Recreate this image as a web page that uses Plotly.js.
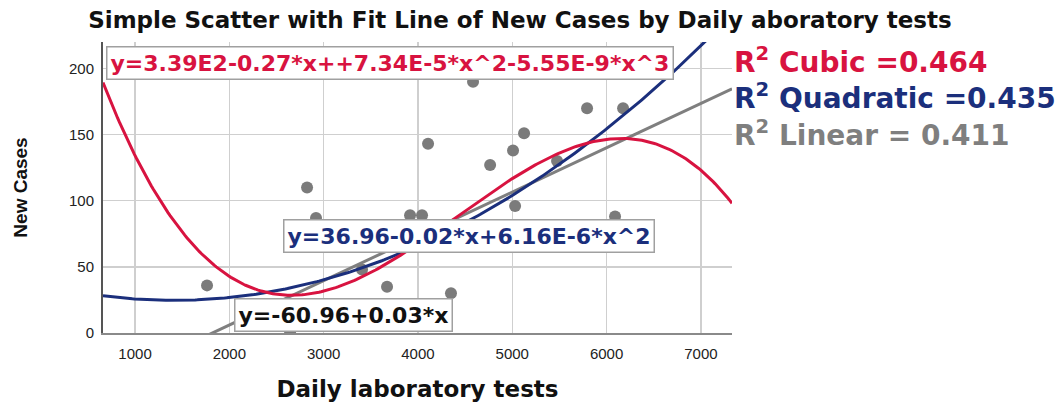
<!DOCTYPE html>
<html>
<head>
<meta charset="utf-8">
<script src="https://cdn.plot.ly/plotly-3.0.1.min.js"></script>
<style>html,body{margin:0;padding:0;background:#fff;}#chart{width:1059px;height:403px;}</style>
</head>
<body>
<div id="chart"></div>
<script>
// Observed points (Daily laboratory tests, New Cases)
const labTests = [4584, 5793, 6175, 5125, 4107, 5008, 4765, 5475, 2824, 2919, 3916, 4043, 5030, 6090, 3407, 3672, 1763, 4350, 2644];
const newCases = [190, 170, 170, 151, 143, 138, 127, 130, 110, 87, 89, 89, 96, 88, 48, 35, 36, 30, 1];

// Fit coefficients (constant, x, x^2, x^3), as shown in the chart (unrounded estimates)
const cubicCoef = [339, -0.2727, 7.34e-5, -5.55e-9];
const quadCoef = [36.96, -0.0174, 6.16e-6];
const linCoef = [-60.96, 0.0335];

const eqCubic = 'y=3.39E2-0.27*x++7.34E-5*x^2-5.55E-9*x^3';
const eqQuad = 'y=36.96-0.02*x+6.16E-6*x^2';
const eqLin = 'y=-60.96+0.03*x';
const r2Labels = ['R<sup>2</sup> Cubic =0.464', 'R<sup>2</sup> Quadratic =0.435', 'R<sup>2</sup> Linear = 0.411'];

const xMin = 660, xMax = 7330;
const xs = [];
for (let i = 0; i <= 300; i++) xs.push(xMin + (xMax - xMin) * i / 300);
const poly = (c, x) => c.reduce((s, a, k) => s + a * Math.pow(x, k), 0);

const RED = '#d81340', NAVY = '#1b2f7c', GRAY = '#7f7f7f';

const traces = [
  {x: labTests, y: newCases, type: 'scatter', mode: 'markers',
   marker: {color: '#7b7b7b', size: 12}, showlegend: false, hoverinfo: 'skip'},
  {x: xs, y: xs.map(x => poly(linCoef, x)), type: 'scatter', mode: 'lines',
   line: {color: GRAY, width: 3}, showlegend: false},
  {x: xs, y: xs.map(x => poly(quadCoef, x)), type: 'scatter', mode: 'lines',
   line: {color: NAVY, width: 3}, showlegend: false},
  {x: xs, y: xs.map(x => poly(cubicCoef, x)), type: 'scatter', mode: 'lines',
   line: {color: RED, width: 3}, showlegend: false}
];

const eqFont = {family: 'DejaVu Sans', size: 22, weight: 'bold'};
const boxAnn = (text, x, y, color) => ({
  text: text, xref: 'paper', yref: 'paper', x: x, y: y, xanchor: 'center', yanchor: 'middle',
  showarrow: false, bgcolor: '#ffffff', bordercolor: '#a0a0a0', borderwidth: 1.5, borderpad: 3,
  font: Object.assign({}, eqFont, {color: color})
});
const legFont = {family: 'DejaVu Sans', size: 28, weight: 'bold'};
const legAnn = (text, y, color) => ({
  text: text, xref: 'paper', yref: 'paper', x: 1.0, y: y, xanchor: 'left', yanchor: 'middle',
  showarrow: false, font: Object.assign({}, legFont, {color: color})
});

const layout = {
  width: 1059, height: 403,
  margin: {l: 103, r: 327, t: 42, b: 70},
  paper_bgcolor: '#ffffff', plot_bgcolor: '#ffffff',
  title: {text: 'Simple Scatter with Fit Line of New Cases by Daily aboratory tests',
          font: {family: 'DejaVu Sans', size: 23, weight: 'bold', color: '#111'},
          xref: 'container', yref: 'container', x: 0.491, y: 0.95, xanchor: 'center', yanchor: 'middle'},
  xaxis: {range: [xMin, xMax], tickvals: [1000, 2000, 3000, 4000, 5000, 6000, 7000],
          showgrid: true, gridcolor: '#cfcfcf', gridwidth: 1.5, zeroline: false,
          showline: true, linecolor: '#8a8a8a', linewidth: 2, ticks: '', ticklabelstandoff: 6,
          tickfont: {family: 'Liberation Sans', size: 15, color: '#222'},
          title: {text: 'Daily laboratory tests', standoff: 20,
                  font: {family: 'DejaVu Sans', size: 23, weight: 'bold', color: '#111'}}},
  yaxis: {range: [0, 220], tickvals: [0, 50, 100, 150, 200],
          showgrid: true, gridcolor: '#cfcfcf', gridwidth: 1.5, zeroline: false,
          showline: true, linecolor: '#555', linewidth: 2, ticks: '', ticklabelstandoff: 4,
          tickfont: {family: 'Liberation Sans', size: 15, color: '#222'},
          title: {text: 'New Cases', standoff: 36,
                  font: {family: 'Liberation Sans', size: 19, weight: 'bold', color: '#111'}}},
  showlegend: false,
  annotations: [
    boxAnn(eqCubic, 0.456, 0.928, RED),
    boxAnn(eqQuad, 0.582, 0.333, NAVY),
    boxAnn(eqLin, 0.382, 0.062, '#111'),
    legAnn(r2Labels[0], 0.935, RED),
    legAnn(r2Labels[1], 0.811, NAVY),
    legAnn(r2Labels[2], 0.687, GRAY)
  ]
};

Plotly.newPlot('chart', traces, layout, {displayModeBar: false, staticPlot: true});
</script>
</body>
</html>
